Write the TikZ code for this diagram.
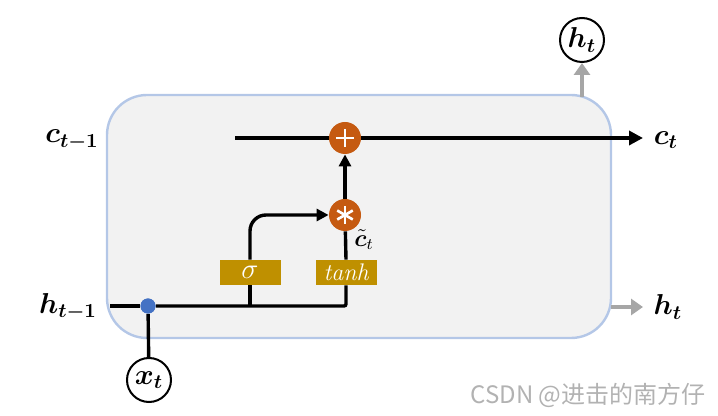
\documentclass[tikz,border=0pt]{standalone}
\usepackage{amsmath,amssymb}
\usepackage{bm}
\usepackage{fontspec}
\newfontfamily\cjkfont{Noto Sans CJK SC}
\usetikzlibrary{arrows.meta}
\usepackage{xcolor}
\definecolor{gatecol}{HTML}{BF9000}
\definecolor{opcol}{HTML}{C55A11}
\definecolor{celledge}{HTML}{B4C7E7}
\definecolor{cellfill}{HTML}{F2F2F2}
\definecolor{dotcol}{HTML}{4472C4}
\definecolor{outcol}{HTML}{A6A6A6}

\begin{document}
\begin{tikzpicture}[x=0.5pt,y=-0.5pt,
  flow/.style={line width=1.7pt},
  outflow/.style={line width=1.7pt,outcol,-{Triangle[length=6pt,width=8pt]}},
  opnode/.style={circle,fill=opcol,text=white,minimum size=16pt,inner sep=0pt},
  gatenode/.style={rectangle,fill=gatecol,text=white,minimum width=30.5pt,minimum height=12.5pt,inner sep=0pt},
  ionode/.style={circle,draw,line width=1pt,minimum size=22pt,inner sep=0pt},
  lbl/.style={font=\Large}]
\useasboundingbox (0,0) rectangle (718,416);

% cell body
\draw[celledge,line width=1.2pt,fill=cellfill,rounded corners=20pt]
(107,95) rectangle (611,338);

% operators and gates
\node[opnode] (plus) at (345,138) {};
\draw[white,line width=1.3pt] (plus.center) ++(-9,0) -- ++(18,0)
(plus.center) ++(0,-9) -- ++(0,18);
\node[opnode] (mul) at (345,215) {};
\foreach \ang in {90,30,-30} {
  \draw[white,line width=1.3pt] (mul.center) ++(\ang:9) -- ++(\ang+180:18);
}
\node[gatenode] (sig) at (250,272.5) {\Large$\sigma$};
\node[gatenode] (tanh) at (346,272.5) {\large\itshape tanh};

% inputs and outputs
\node[ionode] (xt) at (149,380) {\Large$\bm{x_t}$};
\node[ionode] (htop) at (582,40) {\Large$\bm{h_t}$};
\node[circle,fill=dotcol,minimum size=7.5pt,inner sep=0pt] (dot) at (148,306) {};

\coordinate (cin) at (235,138);
\coordinate (cout) at (643,138);
\coordinate (hin) at (110,306);
\coordinate (hbend) at (346,306);
\coordinate (hright) at (611,307);
\coordinate (hout) at (643,307);
\coordinate (hup) at (582,97);

% labels
\node[lbl] (cprev) at (72,140) {$\bm{c_{t-1}}$};
\node[lbl] (cnext) at (666,140) {$\bm{c_t}$};
\node[lbl] (hprev) at (68,307) {$\bm{h_{t-1}}$};
\node[lbl] (hnext) at (668,307) {$\bm{h_t}$};
\node[font=\large] (ctil) at (364,240) {$\tilde{\bm{c}}_t$};

% cell state line
\draw[flow] (cin) -- (plus);
\draw[flow,-{Triangle[length=7pt,width=7pt]}] (plus) -- (cout);
\draw[flow,-{Triangle[length=6pt,width=6pt]}] (mul) -- (plus);

% hidden state line
\draw[flow] (hin) -- (dot);
\draw[flow,rounded corners=1pt] (dot) -- (hbend) -- (tanh.south);
\draw[flow] (dot) -- (xt);
\draw[flow] (sig.south) -- (sig.south |- hbend);
\draw[flow] (tanh.north) -- (mul);
\draw[flow,rounded corners=8pt,-{Triangle[length=6pt,width=6pt]}] (sig.north) |- (mul.west);
\node[circle,fill=dotcol,minimum size=7.5pt,inner sep=0pt] at (dot) {};

% outputs
\draw[outflow] (hright) -- (hout);
\draw[outflow] (hup) -- (htop);

% watermark
\node[text=gray!60,font=\cjkfont\fontsize{12}{14}\selectfont] (mark) at (588,395) {CSDN @进击的南方仔};

\end{tikzpicture}
\end{document}
